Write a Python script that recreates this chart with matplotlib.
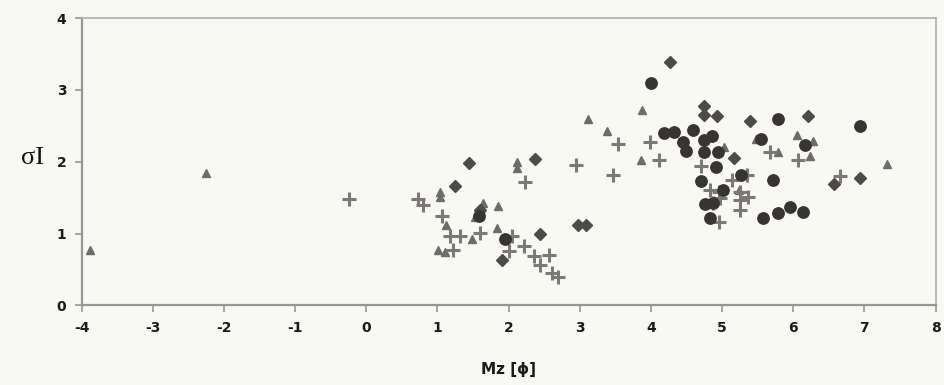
import matplotlib
matplotlib.use("Agg")
import matplotlib.pyplot as plt

# Mz [phi] vs sorting (sigma I), four sample groups
tri_x = [-3.89, -2.25, 1.04, 1.04, 1.12, 1.01, 1.11, 1.48, 1.53, 1.64, 1.85, 1.83,
         2.12, 2.12, 3.12, 3.38, 3.87, 3.86, 5.03, 5.48, 5.78, 6.06, 6.28, 6.23,
         7.32, 5.24]
tri_y = [0.77, 1.84, 1.58, 1.51, 1.12, 0.77, 0.74, 0.92, 1.23, 1.42, 1.38, 1.08,
         2.00, 1.91, 2.59, 2.43, 2.72, 2.02, 2.20, 2.31, 2.14, 2.37, 2.29, 2.08,
         1.97, 1.61]

plus_x = [-0.24, 0.73, 0.80, 1.06, 1.18, 1.32, 1.22, 1.60, 2.05, 2.00, 2.21, 2.35,
          2.44, 2.57, 2.61, 2.70, 2.23, 2.95, 3.47, 3.54, 3.99, 4.11, 4.70, 4.83,
          4.95, 4.97, 4.87, 4.96, 5.14, 5.35, 5.25, 5.37, 5.25, 5.25, 5.67, 6.07,
          6.66]
plus_y = [1.48, 1.48, 1.40, 1.24, 0.96, 0.97, 0.77, 1.01, 0.97, 0.75, 0.82, 0.68,
          0.56, 0.70, 0.45, 0.40, 1.72, 1.95, 1.81, 2.25, 2.27, 2.02, 1.94, 1.61,
          1.58, 1.49, 1.42, 1.16, 1.75, 1.81, 1.58, 1.51, 1.47, 1.33, 2.13, 2.03,
          1.80]

dia_x = [1.24, 1.45, 2.37, 2.44, 1.91, 2.98, 3.09, 4.27, 4.74, 4.75, 4.93, 5.39,
         6.21, 5.17, 6.57, 6.94, 1.60]
dia_y = [1.66, 1.98, 2.04, 1.00, 0.63, 1.12, 1.12, 3.39, 2.77, 2.65, 2.64, 2.57,
         2.63, 2.05, 1.69, 1.77, 1.33]

circ_x = [1.95, 4.00, 4.18, 4.33, 4.59, 4.45, 4.49, 4.86, 4.74, 4.75, 4.94, 4.92,
          4.71, 5.26, 5.78, 5.55, 5.72, 6.16, 6.94, 4.76, 5.02, 4.83, 5.58, 5.79,
          5.96, 6.14, 4.87, 1.59]
circ_y = [0.93, 3.09, 2.40, 2.41, 2.44, 2.27, 2.15, 2.36, 2.30, 2.14, 2.14, 1.93,
          1.73, 1.81, 2.60, 2.31, 1.75, 2.23, 2.50, 1.41, 1.61, 1.22, 1.22, 1.28,
          1.37, 1.30, 1.42, 1.25]

x_ticks = [-4, -3, -2, -1, 0, 1, 2, 3, 4, 5, 6, 7, 8]
y_ticks = [0, 1, 2, 3, 4]

bg = "#f9f9f4"
tick_font = ["Liberation Sans Narrow", "DejaVu Sans Condensed", "DejaVu Sans"]

fig = plt.figure(figsize=(9.44, 3.85), dpi=100, facecolor=bg)
ax = fig.add_axes([0.0866, 0.207, 0.9044, 0.746], facecolor=bg)

ax.plot(tri_x, tri_y, ls="none", marker="^", ms=5.5, color="#6e6c6a", mec="#6e6c6a")
ax.plot(plus_x, plus_y, ls="none", marker="+", ms=10, mew=2.2, color="#7c7878")
ax.plot(dia_x, dia_y, ls="none", marker="D", ms=5.8, color="#4f4a4a", mec="#4f4a4a")
ax.plot(circ_x, circ_y, ls="none", marker="o", ms=8.2, color="#383434", mec="#383434")

ax.set_xlim(-4, 8)
ax.set_ylim(0, 4)
ax.set_xticks(x_ticks)
ax.set_yticks(y_ticks)
ax.set_xticklabels([str(v) for v in x_ticks])

for side in ("left", "bottom"):
    ax.spines[side].set_color("#9a9496")
    ax.spines[side].set_linewidth(1.6)
for side in ("top", "right"):
    ax.spines[side].set_color("#b8b2b6")
    ax.spines[side].set_linewidth(1.3)

ax.tick_params(axis="both", direction="out", length=5, width=1.2, color="#9a9496",
               pad=6)
for lab in ax.get_xticklabels() + ax.get_yticklabels():
    lab.set_family(tick_font)
    lab.set_fontweight("bold")
    lab.set_fontsize(10)
    lab.set_color("#1a1a1a")

ax.set_xlabel("Mz [ϕ]", family=tick_font, fontweight="bold", fontsize=11,
              color="#1a1a1a", labelpad=20)
fig.text(0.034, 0.59, "σI", family=["Liberation Serif", "DejaVu Serif"],
         fontsize=19, ha="center", va="center", color="#111111")

fig.savefig("out.png", dpi=100, facecolor=bg)
